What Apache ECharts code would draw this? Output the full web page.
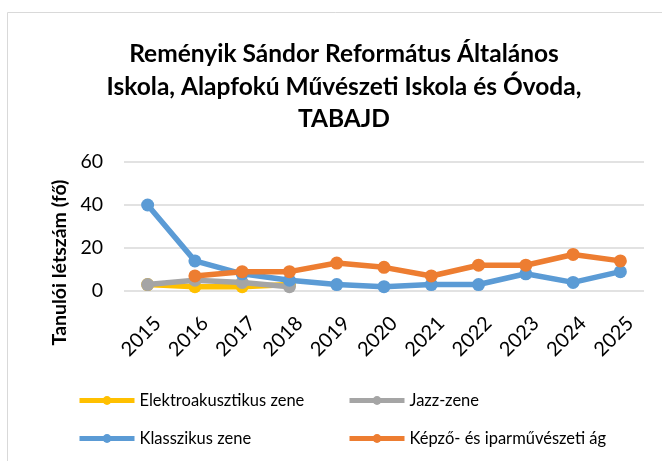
<!DOCTYPE html>
<html><head><meta charset="utf-8">
<script src="https://cdn.jsdelivr.net/npm/echarts@6/dist/echarts.min.js"></script>
<style>html,body{margin:0;padding:0;background:#fff}#c{width:662px;height:461px}</style>
</head><body><div id="c"></div>
<script>
const years = ['2015','2016','2017','2018','2019','2020','2021','2022','2023','2024','2025'];
const seriesNames = ['Elektroakusztikus zene','Jazz-zene','Klasszikus zene','Képző- és iparművészeti ág'];
const elektro = [3,2,2,3,null,null,null,null,null,null,null];
const jazz = [3,5,4,2,null,null,null,null,null,null,null];
const klasszikus = [40,14,8,5,3,2,3,3,8,4,9];
const kepzo = [null,7,9,9,13,11,7,12,12,17,14];
const yTicks = [0,20,40,60];
const titleText = 'Reményik Sándor Református Általános\nIskola, Alapfokú Művészeti Iskola és Óvoda,\nTABAJD';
const yName = 'Tanulói létszám (fő)';

const colors = ['#FFC000','#A5A5A5','#5B9BD5','#ED7D31'];
const dataArr = [elektro, jazz, klasszikus, kepzo];
const font = 'Lato, "Open Sans", sans-serif';

const chart = echarts.init(document.getElementById('c'));
const legendPos = [[77,392],[347,392],[77,430],[347,430]];
chart.setOption({
  animation:false,
  graphic:[{type:'rect',shape:{x:7.5,y:12.5,width:660,height:460},style:{fill:null,stroke:'#D9D9D9',lineWidth:1},silent:true}],
  title:{text:titleText,left:339,textAlign:'center',top:33,textStyle:{fontFamily:font,fontWeight:'bold',fontSize:24.5,lineHeight:32.5,color:'#000'}},
  grid:{left:124,right:18,top:162,bottom:170,containLabel:false},
  xAxis:{type:'category',data:years,boundaryGap:true,
    axisLine:{show:false},axisTick:{show:false},
    axisLabel:{rotate:45,fontFamily:font,fontSize:20,color:'#000',margin:39,padding:[0,-14,0,0],interval:0}},
  yAxis:{type:'value',min:0,max:60,interval:20,
    name:yName,nameLocation:'middle',nameGap:52,nameRotate:90,
    nameTextStyle:{fontFamily:font,fontWeight:'bold',fontSize:19.5,color:'#000',padding:[0,72,0,0]},
    axisLabel:{fontFamily:font,fontSize:19.5,color:'#000',margin:21,formatter:v=>yTicks.includes(v)?String(v):''},
    splitLine:{lineStyle:{color:'#D9D9D9',width:1.5}},axisLine:{show:false},axisTick:{show:false}},
  legend: seriesNames.map((n,i)=>({data:[n],left:legendPos[i][0],top:legendPos[i][1],itemWidth:55,itemHeight:11,itemGap:5,padding:0,
     lineStyle:{width:5},
     textStyle:{fontFamily:font,fontSize:16.5,color:'#000'},selectedMode:false})),
  series: seriesNames.map((n,i)=>({name:n,type:'line',data:dataArr[i],symbol:'circle',symbolSize:13,
     lineStyle:{width:5.5,color:colors[i]},itemStyle:{color:colors[i]},connectNulls:false,z:2+i}))
});
</script></body></html>
